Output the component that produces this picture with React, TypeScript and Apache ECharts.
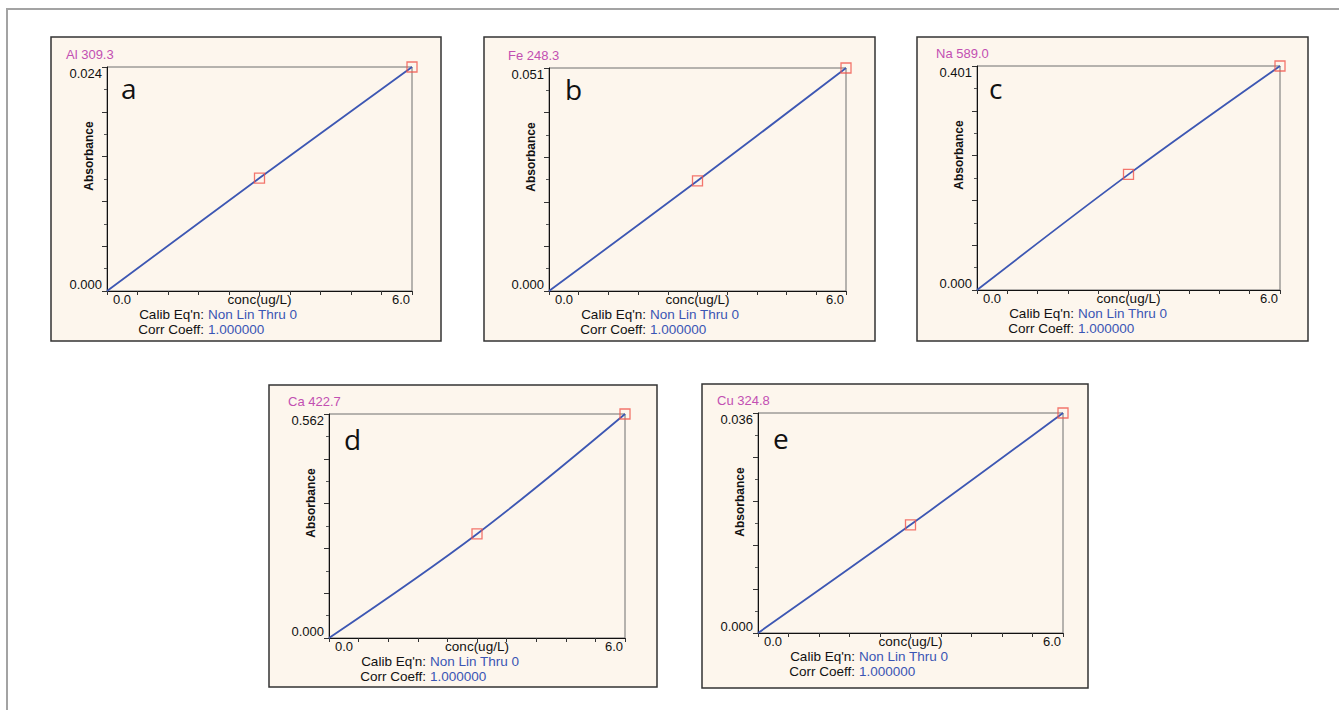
import React, { useEffect, useRef } from 'react';
import * as echarts from 'echarts';

// ---------- data ----------
const titles = ['Al 309.3', 'Fe 248.3', 'Na 589.0', 'Ca 422.7', 'Cu 324.8'];
const letters = ['a', 'b', 'c', 'd', 'e'];
const concValues = [0, 3, 6];
const alAbs = [0, 0.0121, 0.024];
const feAbs = [0, 0.0252, 0.051];
const naAbs = [0, 0.207, 0.401];
const caAbs = [0, 0.261, 0.562];
const cuAbs = [0, 0.0177, 0.036];
const absorbanceSeries = [alAbs, feAbs, naAbs, caAbs, cuAbs];
const yAxisMax = [0.024, 0.051, 0.401, 0.562, 0.036];
const xAxisMin = 0;
const xAxisMax = 6;
const xName = 'conc(ug/L)';
const yName = 'Absorbance';
const calibLabel = "Calib Eq'n:";
const calibValue = 'Non Lin Thru 0';
const corrLabel = 'Corr Coeff:';
const corrValue = '1.000000';

// ---------- layout ----------
const layout = [
  { box: [51, 37, 441, 341], plot: [107, 67, 412, 291], letter: [121, 88] },
  { box: [484, 37, 875, 341], plot: [549, 68, 846, 291], letter: [565, 89] },
  { box: [917, 37, 1308, 341], plot: [977, 66, 1280, 290], letter: [989, 88] },
  { box: [269, 385, 657, 687], plot: [329, 414, 625, 638], letter: [344, 439] },
  { box: [702, 384, 1088, 688], plot: [758, 413, 1063, 633], letter: [773, 438] },
];

const FONT = '"Liberation Sans", Arial, sans-serif';
const CREAM = '#fdf6ed';
const MAGENTA = '#c24fb2';
const BLUE = '#3a55b4';
const LINE_BLUE = '#3d57b3';
const RED = '#f0554c';

export default function App() {
  const ref = useRef<HTMLDivElement>(null);

  useEffect(() => {
    document.body.style.margin = '0';
    document.body.style.overflow = 'hidden';
    if (!ref.current) return;
    const chart = echarts.init(ref.current, undefined, { renderer: 'svg' });

    const grids: any[] = [];
    const xAxes: any[] = [];
    const yAxes: any[] = [];
    const series: any[] = [];
    const graphics: any[] = [
      {
        type: 'polyline',
        shape: { points: [[7, 710], [7, 9], [1339, 9]] },
        style: { stroke: '#a3a3a3', lineWidth: 2, fill: null },
        z: -20,
      },
    ];

    const txt = (x: number, y: number, text: string, fill: string, align: string) => ({
      type: 'text',
      x,
      y,
      style: { text, fill, font: '13.5px ' + FONT, align, verticalAlign: 'middle', lineHeight: 13 },
      z: 10,
    });

    layout.forEach((L, i) => {
      const [bl, bt, br, bb] = L.box;
      const [pl, pt, pr, pb] = L.plot;
      const max = yAxisMax[i];
      grids.push({
        left: pl,
        top: pt,
        width: pr - pl,
        height: pb - pt,
        show: true,
        backgroundColor: 'transparent',
        borderColor: '#6e6e6e',
        borderWidth: 1,
        containLabel: false,
      });
      xAxes.push({
        type: 'value',
        gridIndex: i,
        min: xAxisMin,
        max: xAxisMax,
        interval: 0.6,
        splitLine: { show: false },
        axisLine: { show: true, onZero: false, lineStyle: { color: '#111', width: 1 } },
        axisTick: { show: true, length: 4, inside: false, lineStyle: { color: '#333' } },
        axisLabel: {
          show: true,
          interval: 0,
          margin: 2,
          color: '#111',
          fontFamily: FONT,
          fontSize: 13,
          lineHeight: 13,
          showMinLabel: true,
          showMaxLabel: true,
          alignMinLabel: 'left',
          alignMaxLabel: 'right',
          formatter: (v: number) => {
            if (Math.abs(v - xAxisMin) < 1e-6) return '{p|' + xAxisMin.toFixed(1) + '}';
            if (Math.abs(v - (xAxisMin + xAxisMax) / 2) < 1e-6) return '{m|' + xName + '}';
            if (Math.abs(v - xAxisMax) < 1e-6) return '{q|' + xAxisMax.toFixed(1) + '}';
            return '';
          },
          rich: {
            p: { padding: [0, 0, 0, 6], fontFamily: FONT, fontSize: 13, lineHeight: 13, color: '#111' },
            m: { fontFamily: FONT, fontSize: 13.5, lineHeight: 13, color: '#111' },
            q: { padding: [0, 2, 0, 0], fontFamily: FONT, fontSize: 13, lineHeight: 13, color: '#111' },
          },
        },
      });
      yAxes.push({
        type: 'value',
        gridIndex: i,
        min: 0,
        max: max,
        interval: max / 5,
        splitLine: { show: false },
        axisLine: { show: true, onZero: false, lineStyle: { color: '#111', width: 1 } },
        axisTick: { show: true, length: 5, lineStyle: { color: '#333' } },
        minorTick: { show: true, splitNumber: 2, length: 3, lineStyle: { color: '#555' } },
        minorSplitLine: { show: false },
        axisLabel: {
          show: true,
          margin: 5,
          color: '#111',
          fontFamily: FONT,
          fontSize: 13,
          showMinLabel: true,
          showMaxLabel: true,
          verticalAlignMinLabel: 'bottom',
          verticalAlignMaxLabel: 'top',
          formatter: (v: number) => {
            if (Math.abs(v) < max * 1e-6) return (0).toFixed(3);
            if (Math.abs(v - max) < max * 1e-6) return max.toFixed(3);
            return '';
          },
        },
      });
      const pts = concValues.map((c, k) => [c, absorbanceSeries[i][k]]);
      series.push({
        type: 'line',
        xAxisIndex: i,
        yAxisIndex: i,
        data: pts,
        smooth: 0.35,
        showSymbol: false,
        lineStyle: { color: LINE_BLUE, width: 1.8 },
        z: 3,
      });
      series.push({
        type: 'scatter',
        xAxisIndex: i,
        yAxisIndex: i,
        data: pts.filter((p) => p[0] > 0),
        symbol: 'rect',
        symbolSize: 10,
        itemStyle: { color: 'rgba(0,0,0,0)', borderColor: RED, borderWidth: 1.3 },
        z: 4,
      });

      // panel box
      graphics.push({
        type: 'rect',
        shape: { x: bl, y: bt, width: br - bl, height: bb - bt },
        style: { fill: CREAM, stroke: '#333333', lineWidth: 1.5 },
        z: -10,
      });
      graphics.push({
        type: 'text',
        x: pl - 41,
        y: pt - 13,
        style: { text: titles[i], fill: MAGENTA, font: '13px ' + FONT, align: 'left', verticalAlign: 'middle' },
        z: 10,
      });
      graphics.push({
        type: 'text',
        x: L.letter[0],
        y: L.letter[1],
        style: { text: letters[i], fill: '#111', font: '28px "Open Sans", sans-serif', align: 'left', verticalAlign: 'middle' },
        z: 10,
      });
      graphics.push({
        type: 'text',
        x: pl - 18,
        y: pt + 89,
        rotation: Math.PI / 2,
        style: { text: yName, fill: '#111', font: 'bold 12px ' + FONT, align: 'center', verticalAlign: 'middle' },
        z: 10,
      });
      graphics.push(txt(pl + 97, pb + 23, calibLabel, '#111', 'right'));
      graphics.push(txt(pl + 101, pb + 23, calibValue, BLUE, 'left'));
      graphics.push(txt(pl + 97, pb + 38, corrLabel, '#111', 'right'));
      graphics.push(txt(pl + 101, pb + 38, corrValue, BLUE, 'left'));
    });

    chart.setOption({
      animation: false,
      backgroundColor: '#ffffff',
      grid: grids,
      xAxis: xAxes,
      yAxis: yAxes,
      series,
      graphic: { elements: graphics },
    });

    return () => chart.dispose();
  }, []);

  return <div ref={ref} style={{ width: 1339, height: 710 }} />;
}
